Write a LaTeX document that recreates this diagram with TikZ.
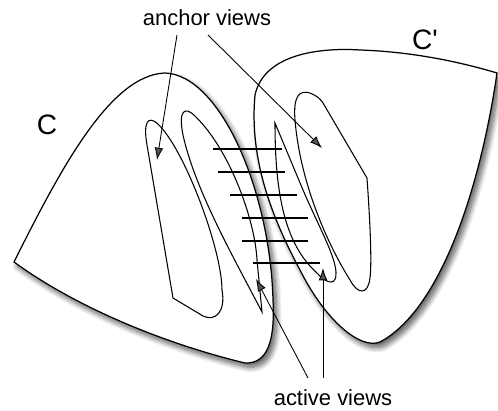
\documentclass[tikz,border=0pt]{standalone}
\usepackage{fontspec}
\setmainfont{Liberation Sans}
\usetikzlibrary{arrows.meta,shadows.blur}

\begin{document}
\begin{tikzpicture}[x=0.02cm,y=-0.02cm,
	region/.style={ draw, line width=0.7pt, fill=white, blur shadow={shadow xshift=2pt, shadow yshift=-2.5pt, shadow blur radius=3pt, shadow blur steps=10, shadow opacity=65} },
	view/.style={ draw, line width=0.6pt },
	match/.style={ line width=0.6pt },
	pointer/.style={ line width=0.5pt, -{Latex[length=7pt,width=5pt]} },
	lbl/.style={ inner sep=0pt, font=\fontsize{12.5}{15}\selectfont },
	biglbl/.style={ inner sep=0pt, font=\fontsize{16}{19}\selectfont }
]
\useasboundingbox (0,0) rectangle (498,411);

% cluster C
\path[region] (14,262) .. controls (60,170) and (110,75) .. (165,73)
	.. controls (220,75) and (270,190) .. (273,300)
	.. controls (275,340) and (268,364) .. (245,363)
	.. controls (170,345) and (80,310) .. (14,262) -- cycle;
% cluster C'
\path[region] (255,95) .. controls (265,50) and (330,48) .. (360,50)
	.. controls (420,52) and (470,65) .. (497,73)
	.. controls (480,190) and (440,310) .. (380,342)
	.. controls (360,350) and (325,320) .. (300,270)
	.. controls (265,205) and (250,150) .. (255,95) -- cycle;

% anchor and active views of C
\draw[view] (173,298) -- (203,316) .. controls (215,322) and (226,312) .. (222,290)
	.. controls (222,250) and (185,150) .. (158,124)
	.. controls (148,115) and (143,122) .. (147,145) -- cycle;
\draw[view] (262,312) .. controls (235,260) and (195,190) .. (183,135)
	.. controls (178,110) and (185,106) .. (195,116)
	.. controls (230,150) and (255,220) .. (257,260) -- cycle;

% anchor and active views of C'
\draw[view] (323,103) -- (367,178) .. controls (370,220) and (372,262) .. (370,278)
	.. controls (368,295) and (358,295) .. (350,280)
	.. controls (325,240) and (300,180) .. (295,120)
	.. controls (293,95) and (300,90) .. (310,93)
	.. controls (315,95) and (320,98) .. (323,103) -- cycle;
\draw[view] (275,123) -- (303,190) .. controls (318,225) and (335,255) .. (336,272)
	.. controls (337,285) and (328,285) .. (318,274)
	.. controls (285,245) and (275,195) .. (275,123) -- cycle;

% matching between active views
\foreach \y/\xa/\xb [count=\i] in {149/213/282, 172/218/285, 195/230/297, 218/242/308, 241/242/308, 263/253/320} {
	\coordinate (ml\i) at (\xa,\y);
	\coordinate (mr\i) at (\xb,\y);
	\draw[match] (ml\i) -- (mr\i);
}

\node at (207,18) (anchorlbl) [lbl] {anchor views};
\node at (333,398) (activelbl) [lbl] {active views};
\node at (47,125) (clbl) [biglbl] {C};
\node at (425,40) (cplbl) [biglbl] {C\textquotesingle};

\coordinate (anc1) at (177,35);
\coordinate (anc1e) at (157,160);
\coordinate (anc2) at (208,35);
\coordinate (anc2e) at (322,148);
\coordinate (act1) at (308,378);
\coordinate (act1e) at (256,279);
\coordinate (act2) at (323,378);
\coordinate (act2e) at (323,268);
\draw[pointer] (anc1) -- (anc1e);
\draw[pointer] (anc2) -- (anc2e);
\draw[pointer] (act1) -- (act1e);
\draw[pointer] (act2) -- (act2e);

\end{tikzpicture}
\end{document}
